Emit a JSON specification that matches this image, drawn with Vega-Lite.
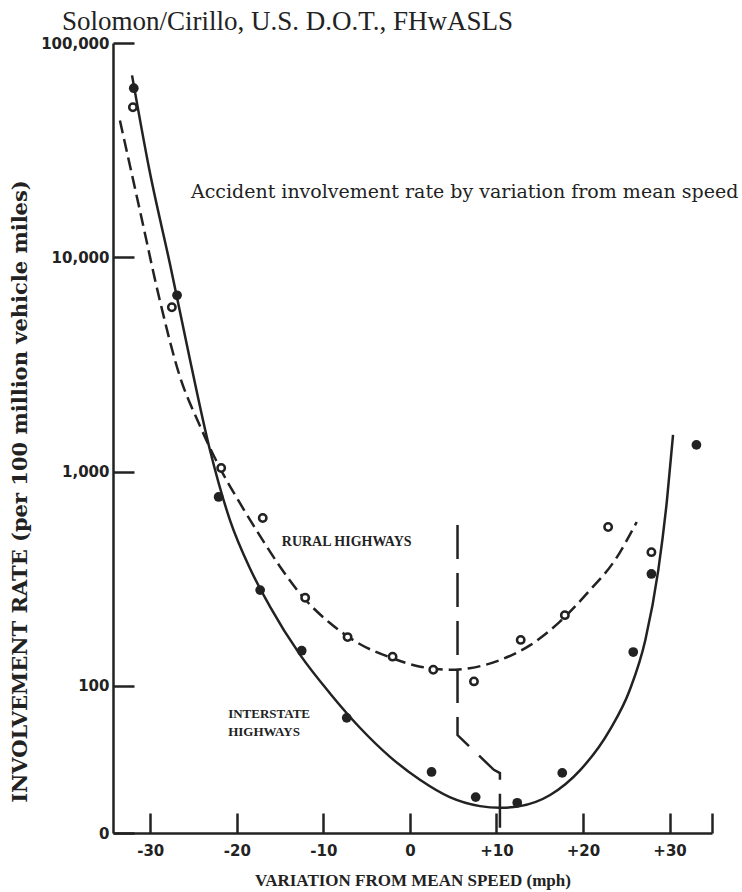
{
  "$schema": "https://vega.github.io/schema/vega-lite/v6.json",
  "width": 599,
  "height": 790,
  "autosize": "none",
  "padding": {"left": 113, "top": 43, "right": 30, "bottom": 59},
  "background": "white",
  "title": {
    "text": "Solomon/Cirillo, U.S. D.O.T., FHwASLS",
    "anchor": "start",
    "frame": "group",
    "dx": -51,
    "dy": 26,
    "offset": 5,
    "font": "Liberation Serif",
    "fontSize": 27,
    "fontWeight": "normal",
    "color": "#222",
    "baseline": "alphabetic"
  },
  "config": {
    "view": {"stroke": null},
    "axis": {
      "grid": false,
      "domainColor": "#222",
      "domainWidth": 2.5,
      "tickColor": "#222",
      "tickWidth": 2.5,
      "labelColor": "#222",
      "titleColor": "#222"
    }
  },
  "datasets": {
    "points": [
      {"series": "Interstate", "x": -31.9, "y": 61500},
      {"series": "Interstate", "x": -26.9, "y": 6650},
      {"series": "Interstate", "x": -22.1, "y": 762},
      {"series": "Interstate", "x": -17.3, "y": 280},
      {"series": "Interstate", "x": -12.5, "y": 146},
      {"series": "Interstate", "x": -7.3, "y": 71},
      {"series": "Interstate", "x": 2.5, "y": 39.7},
      {"series": "Interstate", "x": 7.6, "y": 30.3},
      {"series": "Interstate", "x": 12.4, "y": 28.5},
      {"series": "Interstate", "x": 17.6, "y": 39.3},
      {"series": "Interstate", "x": 25.8, "y": 144},
      {"series": "Interstate", "x": 27.9, "y": 333},
      {"series": "Interstate", "x": 33.1, "y": 1333},
      {"series": "Rural", "x": -32.0, "y": 50100},
      {"series": "Rural", "x": -27.5, "y": 5850},
      {"series": "Rural", "x": -21.8, "y": 1040},
      {"series": "Rural", "x": -17.0, "y": 608},
      {"series": "Rural", "x": -12.1, "y": 258},
      {"series": "Rural", "x": -7.2, "y": 169},
      {"series": "Rural", "x": -2.0, "y": 137},
      {"series": "Rural", "x": 2.7, "y": 119},
      {"series": "Rural", "x": 7.4, "y": 105},
      {"series": "Rural", "x": 12.8, "y": 164},
      {"series": "Rural", "x": 17.9, "y": 214},
      {"series": "Rural", "x": 22.9, "y": 552},
      {"series": "Rural", "x": 27.9, "y": 421}
    ],
    "curves": [
      {"series": "Interstate", "x": -32.1, "y": 70600},
      {"series": "Interstate", "x": -30.1, "y": 25600},
      {"series": "Interstate", "x": -27.7, "y": 9230},
      {"series": "Interstate", "x": -25.4, "y": 3320},
      {"series": "Interstate", "x": -23.1, "y": 1262},
      {"series": "Interstate", "x": -20.8, "y": 596},
      {"series": "Interstate", "x": -18.5, "y": 355},
      {"series": "Interstate", "x": -16.2, "y": 236},
      {"series": "Interstate", "x": -12.7, "y": 140},
      {"series": "Interstate", "x": -9.2, "y": 92},
      {"series": "Interstate", "x": -5.8, "y": 64},
      {"series": "Interstate", "x": -2.3, "y": 46.7},
      {"series": "Interstate", "x": 1.2, "y": 36.4},
      {"series": "Interstate", "x": 4.6, "y": 30.3},
      {"series": "Interstate", "x": 8.1, "y": 27.5},
      {"series": "Interstate", "x": 10.4, "y": 27.0},
      {"series": "Interstate", "x": 12.7, "y": 27.5},
      {"series": "Interstate", "x": 16.2, "y": 31.0},
      {"series": "Interstate", "x": 19.7, "y": 40.6},
      {"series": "Interstate", "x": 23.1, "y": 62.4},
      {"series": "Interstate", "x": 25.4, "y": 95.8},
      {"series": "Interstate", "x": 27.2, "y": 164},
      {"series": "Interstate", "x": 28.7, "y": 348},
      {"series": "Interstate", "x": 29.7, "y": 738},
      {"series": "Interstate", "x": 30.4, "y": 1483},
      {"series": "Rural", "x": -33.5, "y": 43500},
      {"series": "Rural", "x": -31.2, "y": 16600},
      {"series": "Rural", "x": -28.9, "y": 6320},
      {"series": "Rural", "x": -26.6, "y": 2800},
      {"series": "Rural", "x": -24.3, "y": 1650},
      {"series": "Rural", "x": -22.0, "y": 1050},
      {"series": "Rural", "x": -19.7, "y": 720},
      {"series": "Rural", "x": -17.3, "y": 500},
      {"series": "Rural", "x": -15.0, "y": 360},
      {"series": "Rural", "x": -12.7, "y": 270},
      {"series": "Rural", "x": -9.2, "y": 196},
      {"series": "Rural", "x": -5.8, "y": 157},
      {"series": "Rural", "x": -2.3, "y": 136},
      {"series": "Rural", "x": 1.2, "y": 123},
      {"series": "Rural", "x": 4.6, "y": 119},
      {"series": "Rural", "x": 6.9, "y": 121},
      {"series": "Rural", "x": 10.4, "y": 132},
      {"series": "Rural", "x": 13.9, "y": 155},
      {"series": "Rural", "x": 17.3, "y": 199},
      {"series": "Rural", "x": 20.8, "y": 280},
      {"series": "Rural", "x": 23.7, "y": 387},
      {"series": "Rural", "x": 26.2, "y": 582}
    ],
    "divider": [
      {"i": 1, "x": 5.5, "y": 564},
      {"i": 2, "x": 5.5, "y": 59},
      {"i": 3, "x": 9.7, "y": 40.6},
      {"i": 4, "x": 10.4, "y": 39.2},
      {"i": 5, "x": 10.4, "y": 21}
    ],
    "note": [
      {"text": "Accident involvement rate by variation from mean speed", "x": -25.3, "y": 19000}
    ],
    "rural": [
      {"text": "RURAL HIGHWAYS", "x": -14.8, "y": 450}
    ],
    "interstate": [
      {"text": ["INTERSTATE", "HIGHWAYS"], "x": -21.0, "y": 71}
    ]
  },
  "encoding": {
    "x": {
      "field": "x",
      "type": "quantitative",
      "scale": {"domain": [-34.3, 34.9], "nice": false, "zero": false},
      "axis": {
        "values": [-30, -20, -10, 0, 10, 20, 30, 34.9],
        "labelExpr": "datum.value > 34 ? '' : (datum.value > 0 ? '+' + datum.value : '' + datum.value)",
        "tickSize": -20,
        "labelPadding": 30,
        "labelFont": "DejaVu Sans",
        "labelFontWeight": "bold",
        "labelFontSize": 15,
        "labelBaseline": "top",
        "title": "VARIATION FROM MEAN SPEED (mph)",
        "titleFont": "Liberation Serif",
        "titleFontWeight": "bold",
        "titleFontSize": 17,
        "titleBaseline": "alphabetic",
        "titleY": 52
      }
    },
    "y": {
      "field": "y",
      "type": "quantitative",
      "scale": {"type": "log", "domain": [20.6, 100000], "nice": false, "zero": false},
      "axis": {
        "values": [20.6, 100, 1000, 10000, 100000],
        "labelExpr": "datum.value < 50 ? '0' : format(datum.value, ',')",
        "tickSize": -21,
        "labelPadding": 25,
        "labelFont": "DejaVu Sans",
        "labelFontWeight": "bold",
        "labelFontSize": 15,
        "title": "INVOLVEMENT RATE (per 100 million vehicle miles)",
        "titleFont": "DejaVu Serif",
        "titleFontWeight": "bold",
        "titleFontSize": 21,
        "titleBaseline": "alphabetic",
        "titleX": -87,
        "titleY": 448
      }
    }
  },
  "layer": [
    {
      "data": {"name": "curves"},
      "transform": [{"filter": "datum.series === 'Interstate'"}],
      "mark": {"type": "line", "color": "#222", "strokeWidth": 2.5, "interpolate": "monotone"}
    },
    {
      "data": {"name": "curves"},
      "transform": [{"filter": "datum.series === 'Rural'"}],
      "mark": {"type": "line", "color": "#222", "strokeWidth": 2.5, "strokeDash": [13, 6], "interpolate": "monotone"}
    },
    {
      "data": {"name": "divider"},
      "mark": {"type": "line", "color": "#222", "strokeWidth": 2.5, "strokeDash": [34, 14]},
      "encoding": {"order": {"field": "i", "type": "quantitative"}}
    },
    {
      "data": {"name": "points"},
      "transform": [{"filter": "datum.series === 'Interstate'"}],
      "mark": {"type": "point", "shape": "circle", "filled": true, "color": "#222", "size": 95, "opacity": 1}
    },
    {
      "data": {"name": "points"},
      "transform": [{"filter": "datum.series === 'Rural'"}],
      "mark": {"type": "point", "shape": "circle", "filled": false, "fill": "white", "fillOpacity": 1, "stroke": "#222", "strokeWidth": 2.5, "size": 55, "opacity": 1}
    },
    {
      "data": {"name": "note"},
      "mark": {"type": "text", "align": "left", "baseline": "alphabetic", "font": "DejaVu Serif", "fontSize": 19, "color": "#222"},
      "encoding": {"text": {"field": "text"}}
    },
    {
      "data": {"name": "rural"},
      "mark": {"type": "text", "align": "left", "baseline": "alphabetic", "font": "Liberation Serif", "fontWeight": "bold", "fontSize": 14, "color": "#222"},
      "encoding": {"text": {"field": "text"}}
    },
    {
      "data": {"name": "interstate"},
      "mark": {"type": "text", "align": "left", "baseline": "alphabetic", "font": "Liberation Serif", "fontWeight": "bold", "fontSize": 13, "lineHeight": 18, "color": "#222"},
      "encoding": {"text": {"field": "text"}}
    }
  ]
}
